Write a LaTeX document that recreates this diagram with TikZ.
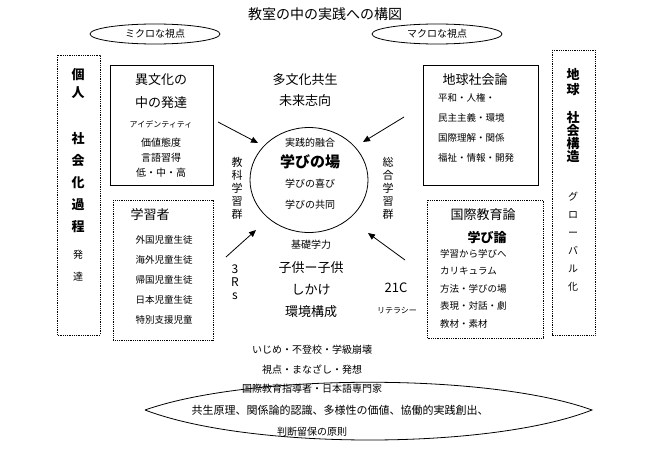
\documentclass[tikz,border=0pt]{standalone}
\usepackage{fontspec}
\setmainfont{Noto Sans CJK JP}
\usetikzlibrary{arrows.meta,shapes.geometric}
\begin{document}
\begin{tikzpicture}[x=1pt,y=-1pt,
 txt/.style={inner sep=0pt,font=\fontsize{10}{12}\selectfont},
 big/.style={inner sep=0pt,font=\fontsize{13}{15}\selectfont},
 vbox/.style={draw,densely dotted,thick},
 sbox/.style={draw,thick},
 arr/.style={-{Triangle[length=7pt,width=6pt]},thick}]
\useasboundingbox (0,0) rectangle (650,460);
\node[big,font=\fontsize{14}{16}\selectfont] (title) at (325,14) {教室の中の実践への構図};
\node[draw,thick,ellipse,minimum width=130,minimum height=20,inner sep=0pt,font=\fontsize{10}{12}\selectfont] (micro) at (155,34) {ミクロな視点};
\node[draw,thick,ellipse,minimum width=130,minimum height=20,inner sep=0pt,font=\fontsize{10}{12}\selectfont] (macro) at (437,34) {マクロな視点};
% left tall box
\draw[vbox] (57,55) rectangle (100,335);
\node[big,font=\fontsize{13}{18}\selectfont\bfseries,align=center] (kojin) at (78,84) {個\\人};
\node[big,font=\fontsize{13}{22}\selectfont\bfseries,align=center] (shakai) at (78,183) {社\\会\\化\\過\\程};
\node[txt,align=center,font=\fontsize{10}{22}\selectfont] (hattatsu) at (78,266) {発\\達};
% right tall box
\draw[vbox] (552,50) rectangle (595,335);
\node[big,font=\fontsize{13}{15}\selectfont\bfseries,align=center] (chikyu) at (573,82) {地\\球};
\node[big,font=\fontsize{13}{13}\selectfont\bfseries,align=center] (kozo) at (573,137) {社\\会\\構\\造};
\node[txt,align=center,font=\fontsize{10}{18}\selectfont] (global) at (573,242) {グ\\ロ\\ー\\バ\\ル\\化};
% ibunka box
\draw[sbox] (110,65) rectangle (213,185);
\node[big] (ib1) at (161,80) {異文化の};
\node[big] (ib2) at (161,103) {中の発達};
\node[txt,font=\fontsize{8}{10}\selectfont\itshape] (ib3) at (161,124) {アイデンティティ};
\node[txt,align=center,font=\fontsize{10}{15}\selectfont] (ib4) at (161,158) {価値態度\\言語習得\\低・中・高};
% learner box
\draw[vbox] (113,200) rectangle (213,340);
\node[big] (gl) at (150,215) {学習者};
\node[txt,align=center,font=\fontsize{9.5}{20}\selectfont] (gl2) at (164,280) {外国児童生徒\\海外児童生徒\\帰国児童生徒\\日本児童生徒\\特別支援児童};
% chikyu shakai box
\draw[sbox] (423,65) rectangle (538,185);
\node[big] (cs) at (475,80) {地球社会論};
\node[txt,align=left,anchor=north west,font=\fontsize{9.5}{20}\selectfont] (cs2) at (438,93) {平和・人権・\\民主主義・環境\\国際理解・関係\\福祉・情報・開発};
% kokusai box
\draw[vbox] (427,200) rectangle (543,338);
\node[big] (ke) at (483,215) {国際教育論};
\node[big,font=\fontsize{13}{15}\selectfont\bfseries] (mn) at (487,238) {学び論};
\node[txt,align=left,anchor=north west,font=\fontsize{9.5}{17.5}\selectfont] (ke2) at (440,249) {学習から学びへ\\カリキュラム\\方法・学びの場\\表現・対話・劇\\教材・素材};
% center
\node[draw,thick,ellipse,minimum width=118,minimum height=105] (circ) at (309,180) {};
\node[big] (tab) at (305,80) {多文化共生};
\node[big] (mir) at (305,101) {未来志向};
\node[txt] (c1) at (310,143) {実践的融合};
\node[big,font=\fontsize{15}{17}\selectfont\bfseries] (c2) at (310,162) {学びの場};
\node[txt] (c3) at (310,184) {学びの喜び};
\node[txt] (c4) at (310,205) {学びの共同};
\node[big,align=center,font=\fontsize{11}{13}\selectfont] (kyoka) at (237,188) {教\\科\\学\\習\\群};
\node[big,align=center,font=\fontsize{11}{13}\selectfont] (sogo) at (388,188) {総\\合\\学\\習\\群};
\node[big,align=center,font=\fontsize{12}{13}\selectfont] (rrr) at (235,282) {3\\R\\s};
\node[txt] (k1) at (311,245) {基礎学力};
\node[big] (k2) at (311,268) {子供ー子供};
\node[big] (k3) at (311,290) {しかけ};
\node[big] (k4) at (311,312) {環境構成};
\node[big] (c21) at (396,288) {21C};
\node[txt,font=\fontsize{8}{10}\selectfont] (lit) at (397,311) {リテラシー};
\coordinate (a1) at (218,122); \coordinate (a1e) at (258,143);
\coordinate (a2) at (404,117); \coordinate (a2e) at (363,142);
\coordinate (a3) at (226,257); \coordinate (a3e) at (256,230);
\coordinate (a4) at (405,260); \coordinate (a4e) at (368,233);
\draw[arr] (a1) -- (a1e);
\draw[arr] (a2) -- (a2e);
\draw[arr] (a3) -- (a3e);
\draw[arr] (a4) -- (a4e);
% bottom
\node[txt] (ij) at (312,350) {いじめ・不登校・学級崩壊};
\node[txt,font=\fontsize{10}{12}\selectfont\itshape] (sh) at (312,370) {視点・まなざし・発想};
\coordinate (L) at (145,410); \coordinate (R) at (592,410);
\draw[thick] (L) .. controls (250,373) and (490,373) .. (R) .. controls (490,450) and (250,450) .. (L);
\node[txt] (b1) at (312,389) {国際教育指導者・日本語専門家};
\node[txt,font=\fontsize{11}{13}\selectfont] (b2) at (340,410) {共生原理、関係論的認識、多様性の価値、協働的実践創出、};
\node[txt] (b3) at (312,432) {判断留保の原則};
\end{tikzpicture}
\end{document}
